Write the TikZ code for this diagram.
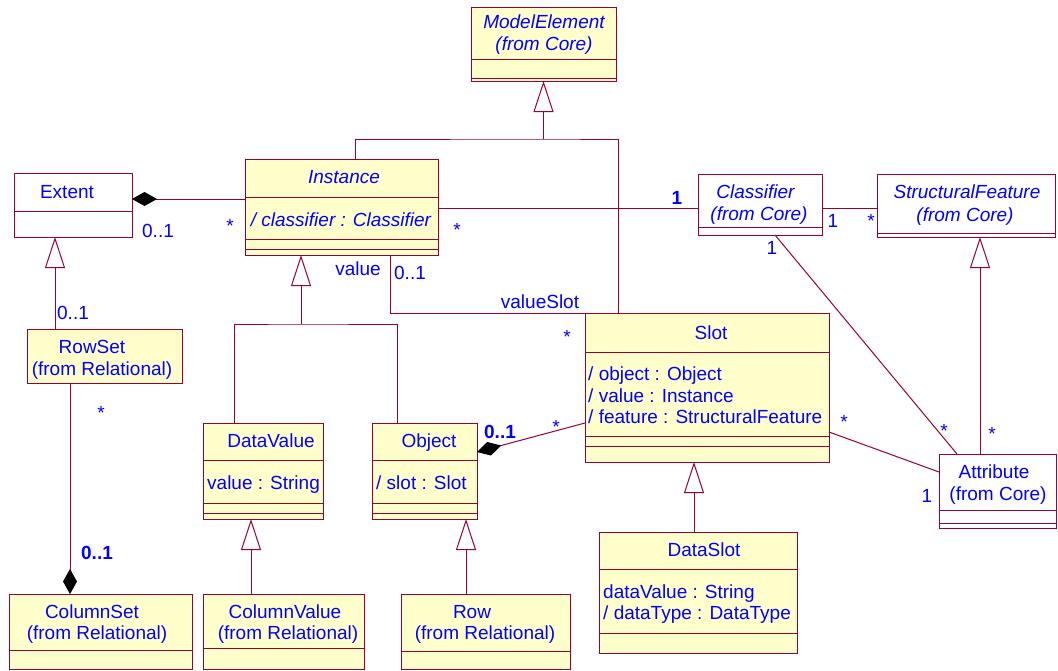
\documentclass[tikz,border=0pt]{standalone}
\usepackage{fontspec}
\setmainfont{Liberation Sans}
\usetikzlibrary{arrows.meta}
\definecolor{umlred}{RGB}{153,0,51}
\definecolor{umlyellow}{RGB}{255,255,204}
\definecolor{umlblue}{RGB}{0,0,255}

\tikzset{
  box/.style={draw=umlred, line width=1pt, fill=umlyellow, anchor=north west, inner sep=0pt, outer sep=0pt},
  wbox/.style={box, fill=white},
  part/.style={draw=umlred, line width=1pt},
  txt/.style={text=umlblue, font=\fontsize{19}{22}\selectfont, inner sep=0pt, anchor=base},
  itxt/.style={txt, font=\fontsize{19}{22}\selectfont\itshape},
  ltxt/.style={txt, anchor=base west},
  btxt/.style={txt, font=\fontsize{19}{22}\selectfont\bfseries},
  assoc/.style={draw=umlred, line width=1pt},
  inherit/.style={assoc, -{Triangle[open, length=31pt, width=20pt]}},
  compo/.style={assoc, {Diamond[length=25pt, width=14pt, black]}-},
}

\begin{document}
\begin{tikzpicture}[x=1pt,y=-1pt]
\useasboundingbox (0,0) rectangle (1058,670);

% classes
\node[box, minimum width=145pt, minimum height=74pt] (modelel) at (471,7) {};
\draw[part] ([yshift=-52pt]modelel.north west) -- ([yshift=-52pt]modelel.north east);
\draw[part] ([yshift=-71pt]modelel.north west) -- ([yshift=-71pt]modelel.north east);
\node[itxt] (modelelA) at (544,28) {ModelElement};
\node[itxt] (modelelB) at (544,50) {(from Core)};

\node[box, minimum width=193pt, minimum height=96pt] (inst) at (245,159) {};
\draw[part] ([yshift=-38pt]inst.north west) -- ([yshift=-38pt]inst.north east);
\draw[part] ([yshift=-80pt]inst.north west) -- ([yshift=-80pt]inst.north east);
\draw[part] ([yshift=-90pt]inst.north west) -- ([yshift=-90pt]inst.north east);
\node[itxt] (instA) at (344,183) {Instance};
\node[itxt] (instB) at (341,226) {/ classifier : Classifier};

\node[wbox, minimum width=118pt, minimum height=64pt] (ext) at (14,173) {};
\draw[part] ([yshift=-38pt]ext.north west) -- ([yshift=-38pt]ext.north east);
\node[txt] (extA) at (67,198) {Extent};

\node[wbox, minimum width=124pt, minimum height=61pt] (cls) at (698,174) {};
\draw[part] ([yshift=-53pt]cls.north west) -- ([yshift=-53pt]cls.north east);
\node[itxt] (clsA) at (755.5,198) {Classifier};
\node[itxt] (clsB) at (759,220) {(from Core)};

\node[wbox, minimum width=178pt, minimum height=63pt] (sfeat) at (877,174) {};
\draw[part] ([yshift=-59pt]sfeat.north west) -- ([yshift=-59pt]sfeat.north east);
\node[itxt] (sfeatA) at (967,198) {StructuralFeature};
\node[itxt] (sfeatB) at (965,221) {(from Core)};

\node[box, minimum width=244pt, minimum height=149pt] (slot) at (585,313) {};
\draw[part] ([yshift=-39pt]slot.north west) -- ([yshift=-39pt]slot.north east);
\draw[part] ([yshift=-123pt]slot.north west) -- ([yshift=-123pt]slot.north east);
\draw[part] ([yshift=-133pt]slot.north west) -- ([yshift=-133pt]slot.north east);
\node[txt] (slotA) at (711,339) {Slot};
\node[ltxt] (slotB) at (588,380) {/ object : Object};
\node[ltxt] (slotC) at (588,402) {/ value : Instance};
\node[ltxt] (slotD) at (588,423) {/ feature : StructuralFeature};

\node[wbox, minimum width=117pt, minimum height=74pt] (attr) at (939,454) {};
\draw[part] ([yshift=-56pt]attr.north west) -- ([yshift=-56pt]attr.north east);
\draw[part] ([yshift=-69pt]attr.north west) -- ([yshift=-69pt]attr.north east);
\node[txt] (attrA) at (994,478) {Attribute};
\node[txt] (attrB) at (998,500) {(from Core)};

\node[box, minimum width=155pt, minimum height=54pt] (rowset) at (27,329) {};
\node[txt] (rowsetA) at (92,353) {RowSet};
\node[txt] (rowsetB) at (102,375) {(from Relational)};

\node[box, minimum width=120pt, minimum height=96pt] (dval) at (203,423) {};
\draw[part] ([yshift=-37pt]dval.north west) -- ([yshift=-37pt]dval.north east);
\draw[part] ([yshift=-80pt]dval.north west) -- ([yshift=-80pt]dval.north east);
\draw[part] ([yshift=-90pt]dval.north west) -- ([yshift=-90pt]dval.north east);
\node[txt] (dvalA) at (271,447) {DataValue};
\node[ltxt] (dvalB) at (207,489) {value : String};

\node[box, minimum width=105pt, minimum height=96pt] (obj) at (372,423) {};
\draw[part] ([yshift=-37pt]obj.north west) -- ([yshift=-37pt]obj.north east);
\draw[part] ([yshift=-80pt]obj.north west) -- ([yshift=-80pt]obj.north east);
\draw[part] ([yshift=-90pt]obj.north west) -- ([yshift=-90pt]obj.north east);
\node[txt] (objA) at (429,447) {Object};
\node[ltxt] (objB) at (376,489) {/ slot : Slot};

\node[box, minimum width=183pt, minimum height=75pt] (colset) at (9,594) {};
\draw[part] ([yshift=-56pt]colset.north west) -- ([yshift=-56pt]colset.north east);
\node[txt] (colsetA) at (92,618) {ColumnSet};
\node[txt] (colsetB) at (97,639) {(from Relational)};

\node[box, minimum width=161pt, minimum height=75pt] (colval) at (203,594) {};
\draw[part] ([yshift=-54pt]colval.north west) -- ([yshift=-54pt]colval.north east);
\node[txt] (colvalA) at (285,618) {ColumnValue};
\node[txt] (colvalB) at (288,639) {(from Relational)};

\node[box, minimum width=169pt, minimum height=75pt] (row) at (401,594) {};
\draw[part] ([yshift=-57pt]row.north west) -- ([yshift=-57pt]row.north east);
\node[txt] (rowA) at (472,618) {Row};
\node[txt] (rowB) at (485,639) {(from Relational)};

\node[box, minimum width=198pt, minimum height=121pt] (dslot) at (599,532) {};
\draw[part] ([yshift=-37pt]dslot.north west) -- ([yshift=-37pt]dslot.north east);
\draw[part] ([yshift=-101pt]dslot.north west) -- ([yshift=-101pt]dslot.north east);
\node[txt] (dslotA) at (704,556) {DataSlot};
\node[ltxt] (dslotB) at (603,598) {dataValue : String};
\node[ltxt] (dslotC) at (603,619) {/ dataType : DataType};

% generalizations
\coordinate (jm) at (543.5,139);
\draw[assoc] ([xshift=13.5pt]inst.north) |- (jm) -| ([xshift=-89pt]slot.north);
\draw[inherit] (jm) -- (modelel.south);
\coordinate (jv) at (301,324);
\draw[assoc] ([xshift=-29pt]dval.north) |- (jv) -| ([xshift=-27.5pt]obj.north);
\draw[inherit] (jv) -- ([xshift=-40.5pt]inst.south);
\draw[inherit] ([xshift=-49.5pt]rowset.north) -- ([xshift=-18pt]ext.south);
\draw[inherit] ([xshift=-32.5pt]colval.north) -- ([xshift=-12pt]dval.south);
\draw[inherit] ([xshift=-19.5pt]row.north) -- ([xshift=41.5pt]obj.south);
\draw[inherit] ([xshift=-4pt]dslot.north) -- ([xshift=-13pt]slot.north |- slot.south);
\draw[inherit] ([xshift=-17.5pt]attr.north) -- ([xshift=14pt]sfeat.south);

% associations
\draw[compo] ([yshift=-26pt]ext.north east) -- ([yshift=-40pt]inst.north west);
\draw[assoc] ([yshift=-49pt]inst.north east) -- ([yshift=-34pt]cls.north west);
\draw[assoc] ([yshift=-34pt]cls.north east) -- ([yshift=-34pt]sfeat.north west);
\draw[assoc] ([xshift=15pt]cls.south) -- ([xshift=18pt]attr.north west);
\draw[assoc] ([yshift=-119pt]slot.north east) -- ([yshift=-18pt]attr.north west);
\draw[compo] ([yshift=-29pt]obj.north east) -- ([yshift=-110pt]slot.north west);
\draw[assoc] ([xshift=48.5pt]inst.south) |- (slot.north west);
\draw[compo] ([xshift=-30.5pt]colset.north) -- ([xshift=-34.5pt]rowset.south);

% multiplicities and roles
\node[txt] (m1) at (158,237) {0..1};
\node[txt] (m2) at (230,232) {*};
\node[txt] (m3) at (457,236) {*};
\node[btxt] (m4) at (677,204) {1};
\node[txt] (m5) at (833,227) {1};
\node[txt] (m6) at (871,227) {*};
\node[txt] (m7) at (772,254) {1};
\node[txt] (m8) at (944,437) {*};
\node[txt] (m9) at (992,440) {*};
\node[txt] (m10) at (844,428) {*};
\node[txt] (m11) at (927,502) {1};
\node[txt] (r1) at (358,275) {value};
\node[txt] (m12) at (410,279) {0..1};
\node[txt] (r2) at (540,308) {valueSlot};
\node[txt] (m13) at (567,343) {*};
\node[btxt] (m14) at (500,438) {0..1};
\node[txt] (m15) at (556,433) {*};
\node[txt] (m16) at (73,319) {0..1};
\node[txt] (m17) at (101,419) {*};
\node[btxt] (m18) at (97,559) {0..1};
\end{tikzpicture}
\end{document}
